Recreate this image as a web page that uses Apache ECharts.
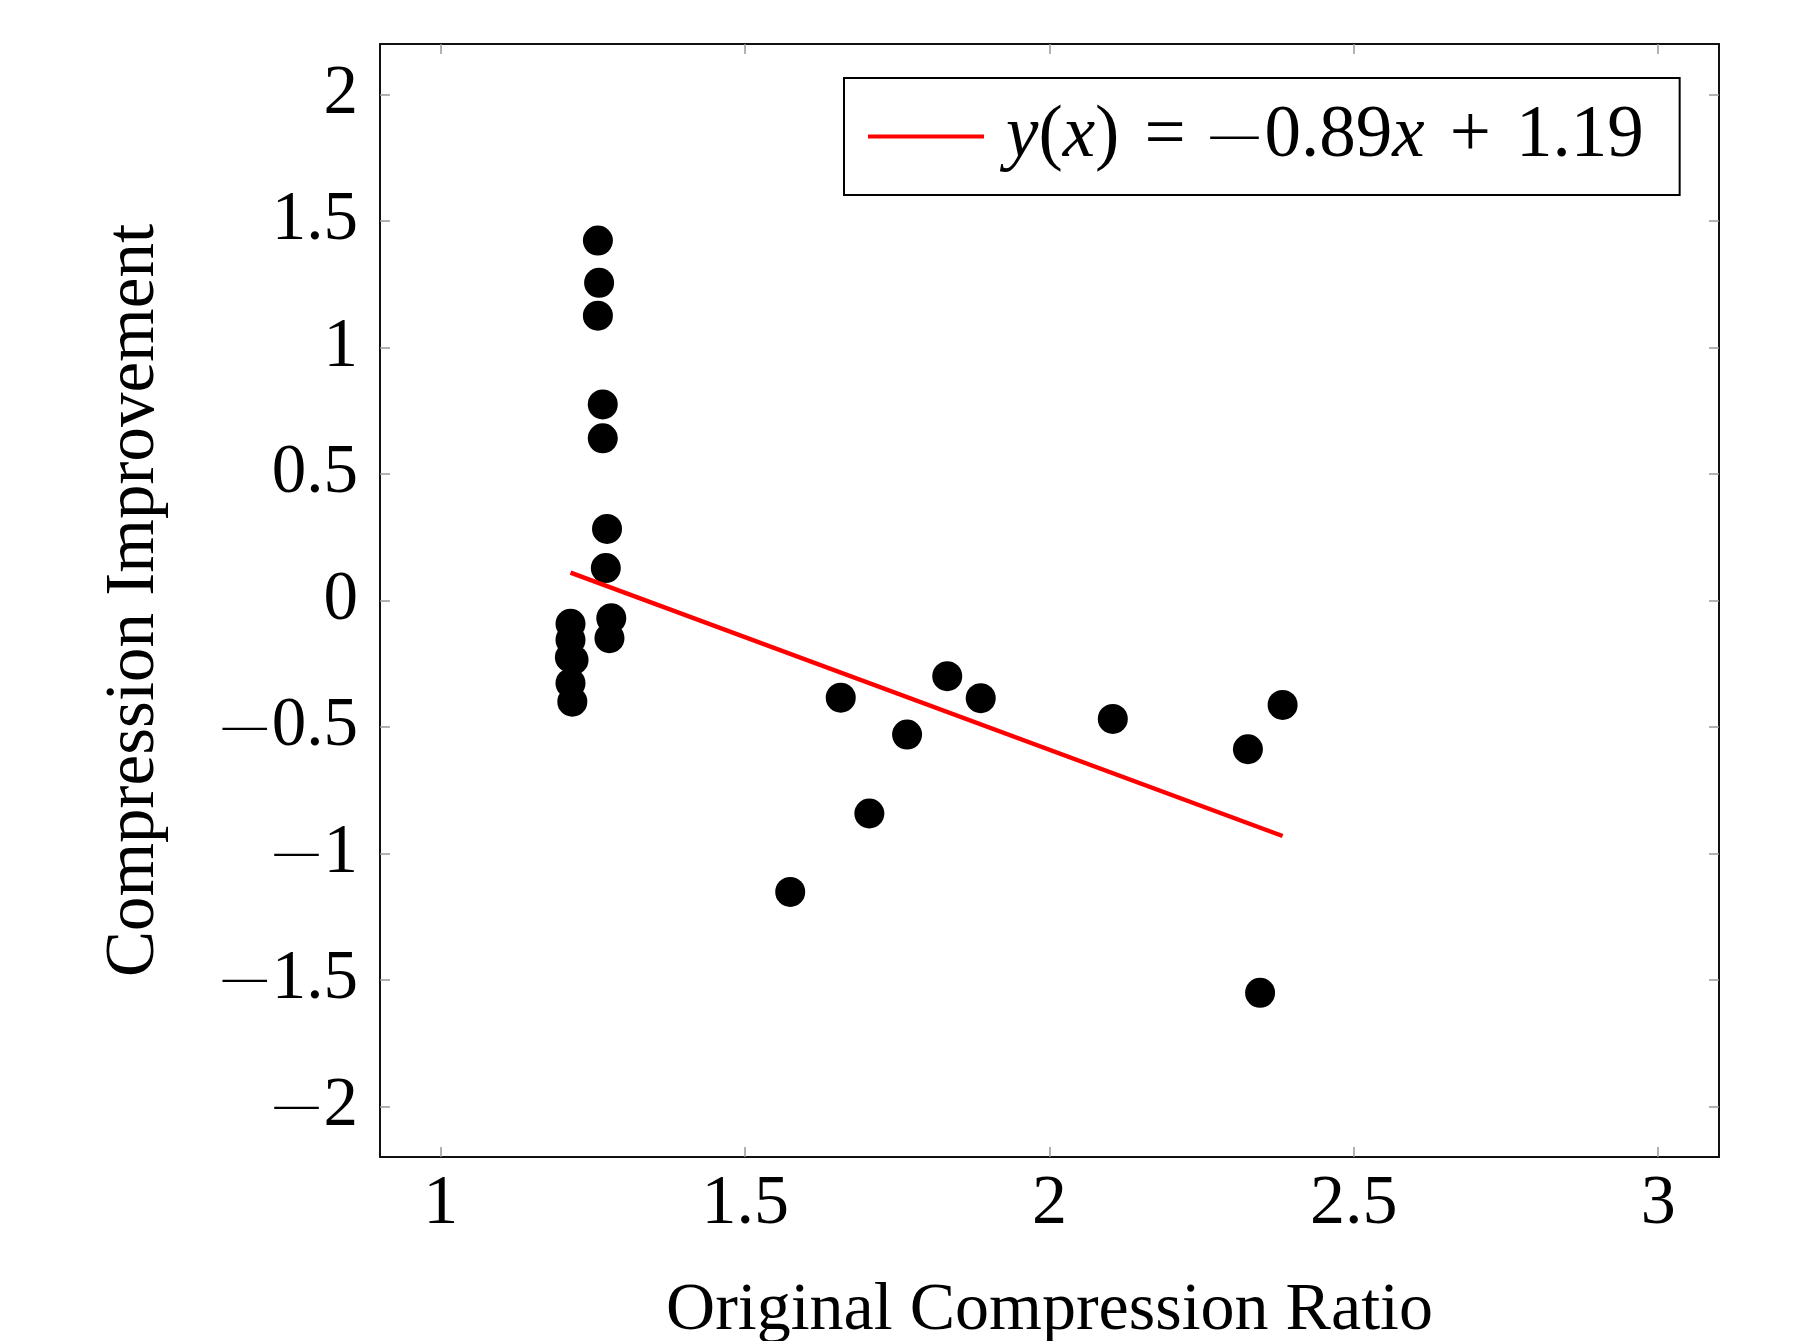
<!DOCTYPE html>
<html>
<head>
<meta charset="utf-8">
<script src="https://cdn.jsdelivr.net/npm/echarts@6/dist/echarts.min.js"></script>
<style>
html,body{margin:0;padding:0;background:#fff;overflow:hidden;}
#chart{width:1796px;height:1341px;}
</style>
</head>
<body>
<div id="chart"></div>
<script>
// ---- data ----
const pointX = [1.258, 1.260, 1.258, 1.266, 1.266, 1.273, 1.271, 1.280, 1.277,
                1.213, 1.213, 1.212, 1.218, 1.213, 1.216,
                1.657, 1.832, 1.887, 1.766, 1.704, 1.574, 2.104, 2.383, 2.326, 2.346];
const pointY = [1.423, 1.256, 1.126, 0.775, 0.641, 0.283, 0.128, -0.070, -0.149,
                -0.092, -0.156, -0.225, -0.235, -0.327, -0.400,
                -0.384, -0.299, -0.386, -0.530, -0.842, -1.152, -0.468, -0.413, -0.588, -1.551];
const fitX = [1.213, 2.383];
const fitY = [0.110, -0.931];
const fitName = 'fit';
const xTicks = [1, 1.5, 2, 2.5, 3];
const xTickLabels = ['1', '1.5', '2', '2.5', '3'];
const yTicks = [-2, -1.5, -1, -0.5, 0, 0.5, 1, 1.5, 2];
const yTickLabels = ['\u22122', '\u22121.5', '\u22121', '\u22120.5', '0', '0.5', '1', '1.5', '2'];
const xTitle = 'Original Compression Ratio';
const yTitle = 'Compression Improvement';

const FONT = "'Liberation Serif', 'DejaVu Serif', serif";
const chart = echarts.init(document.getElementById('chart'), null, {renderer: 'canvas', width: 1796, height: 1341});

const scatterData = pointX.map((x, i) => [x, pointY[i]]);
const fitData = fitX.map((x, i) => [x, fitY[i]]);

// long math minus drawn as a rich-text dash
function richMinus(s) {
  return s.charAt(0) === '\u2212' ? '{m|\u2014}{d|' + s.slice(1) + '}' : '{d|' + s + '}';
}
function lab(ticks, labels) {
  return v => {
    for (let i = 0; i < ticks.length; i++) if (Math.abs(ticks[i] - v) < 1e-9) return richMinus(labels[i]);
    return '';
  };
}

const lineStyleFrame = {color: '#111', width: 2};
const tickStyle = {show: true, inside: true, length: 10, lineStyle: {color: '#999', width: 1.5}};

const option = {
  backgroundColor: '#fff',
  animation: false,
  grid: {left: 380, width: 1339, top: 44, height: 1113, containLabel: false, outerBoundsMode: 'none'},
  legend: {
    show: true,
    data: [fitName],
    left: 844,
    top: 78,
    orient: 'horizontal',
    backgroundColor: '#fff',
    borderColor: '#000',
    borderWidth: 2,
    borderRadius: 0,
    padding: [22, 36, 22, 24],
    icon: 'rect',
    itemWidth: 116,
    itemHeight: 4,
    itemGap: 0,
    selectedMode: false,
    formatter: () => '{sp|}{i|y}{n|(}{i|x}{n|)}{op|=}{m|\u2014}{n|0.89}{i|x}{op|+}{n|1.19}',
    textStyle: {
      fontFamily: FONT,
      fontSize: 73,
      color: '#000',
      rich: {
        sp: {width: 17},
        n: {fontFamily: FONT, fontSize: 73, color: '#000'},
        m: {fontFamily: FONT, fontSize: 48, color: '#000', padding: [0, 6, 0, 0]},
        i: {fontFamily: FONT, fontSize: 73, fontStyle: 'italic', color: '#000'},
        op: {fontFamily: FONT, fontSize: 73, color: '#000', padding: [0, 25, 0, 25]}
      }
    }
  },
  xAxis: [
    {
      type: 'value', min: 0.9, max: 3.1, position: 'bottom',
      name: xTitle, nameLocation: 'middle', nameGap: 120,
      nameTextStyle: {fontFamily: FONT, fontSize: 68, color: '#000'},
      axisLine: {show: true, onZero: false, lineStyle: lineStyleFrame},
      axisTick: Object.assign({customValues: xTicks}, tickStyle),
      axisLabel: {show: true, customValues: xTicks, formatter: lab(xTicks, xTickLabels),
                  fontFamily: FONT, fontSize: 70, color: '#000', margin: 13,
                  rich: {d: {fontFamily: FONT, fontSize: 70, color: '#000'}}},
      splitLine: {show: false}
    },
    {
      type: 'value', min: 0.9, max: 3.1, position: 'top',
      axisLine: {show: true, onZero: false, lineStyle: lineStyleFrame},
      axisTick: Object.assign({customValues: xTicks}, tickStyle),
      axisLabel: {show: false},
      splitLine: {show: false}
    }
  ],
  yAxis: [
    {
      type: 'value', min: -2.2, max: 2.2, position: 'left',
      name: yTitle, nameLocation: 'middle', nameGap: 211, nameRotate: 90,
      nameTextStyle: {fontFamily: FONT, fontSize: 69, color: '#000'},
      axisLine: {show: true, onZero: false, lineStyle: lineStyleFrame},
      axisTick: Object.assign({customValues: yTicks}, tickStyle),
      axisLabel: {show: true, customValues: yTicks, formatter: lab(yTicks, yTickLabels),
                  fontFamily: FONT, fontSize: 69, color: '#000', margin: 22,
                  rich: {
                    d: {fontFamily: FONT, fontSize: 69, color: '#000'},
                    m: {fontFamily: FONT, fontSize: 44, color: '#000', padding: [0, 5, 0, 0]}
                  }},
      splitLine: {show: false}
    },
    {
      type: 'value', min: -2.2, max: 2.2, position: 'right',
      axisLine: {show: true, onZero: false, lineStyle: lineStyleFrame},
      axisTick: Object.assign({customValues: yTicks}, tickStyle),
      axisLabel: {show: false},
      splitLine: {show: false}
    }
  ],
  series: [
    {
      name: 'points', type: 'scatter', xAxisIndex: 0, yAxisIndex: 0,
      data: scatterData, symbol: 'circle', symbolSize: 30,
      itemStyle: {color: '#000', opacity: 1}, silent: true, z: 3
    },
    {
      name: fitName, type: 'line', xAxisIndex: 0, yAxisIndex: 0,
      data: fitData, showSymbol: false, symbol: 'none',
      lineStyle: {color: '#ff0000', width: 4.5}, itemStyle: {color: '#ff0000'},
      silent: true, z: 4
    }
  ]
};
chart.setOption(option);
</script>
</body>
</html>
